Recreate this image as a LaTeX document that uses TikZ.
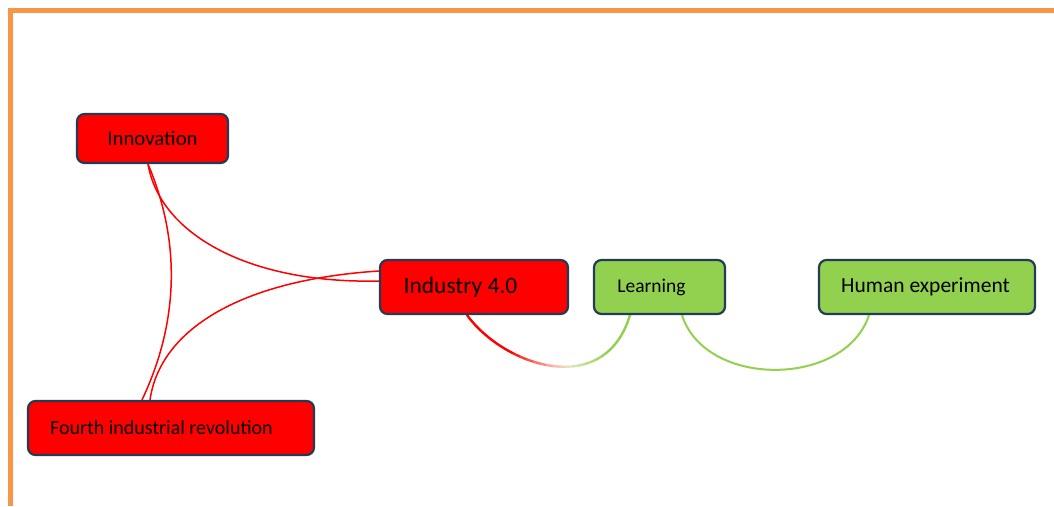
\documentclass[tikz,border=0pt]{standalone}
\usepackage{fontspec}
\setmainfont{Carlito}
\usetikzlibrary{backgrounds}
\definecolor{frameorange}{HTML}{F79646}
\definecolor{boxborder}{HTML}{243B55}
\definecolor{boxred}{HTML}{FF0000}
\definecolor{boxgreen}{HTML}{92D050}
\tikzset{
  box/.style={draw=boxborder, line width=2.2pt, rounded corners=7.5pt, inner sep=0pt, text=black},
  redbox/.style={box, fill=boxred},
  greenbox/.style={box, fill=boxgreen},
  redlink/.style={draw=boxred, line width=1.5pt},
  greenlink/.style={draw=boxgreen, line width=2pt},
}
\begin{document}
\begin{tikzpicture}[x=1pt,y=-1pt]
\useasboundingbox (0,0) rectangle (1054,506);
% frame
\draw[frameorange, line width=4.5pt] (10.5,506) -- (10.5,10.5) -- (1054,10.5);
% nodes
\node[redbox, minimum width=151pt, minimum height=49pt, font=\fontsize{20.8}{24}\selectfont] (inn) at (152.5,138.5) {Innovation};
\node[redbox, minimum width=188pt, minimum height=54pt, font=\fontsize{23.5}{28}\selectfont] (ind) at (474,287) {Industry 4.0\kern27pt};
\node[greenbox, minimum width=131pt, minimum height=54pt, font=\fontsize{19.5}{23}\selectfont] (lea) at (659.5,287) {Learning\kern16pt};
\node[greenbox, minimum width=216pt, minimum height=54pt, font=\fontsize{21.5}{25}\selectfont] (hum) at (927,287) {Human experiment\kern3pt};
\node[redbox, minimum width=286pt, minimum height=54pt, font=\fontsize{20}{24}\selectfont] (fou) at (171,428) {Fourth industrial revolution\kern19pt};
\begin{scope}[on background layer]
% red links
\draw[redlink] ([xshift=-4.5pt]inn.south) .. controls +(12pt,-70pt) and +(-130pt,-3pt) .. ([yshift=6pt]ind.west);
\draw[redlink] ([xshift=-4.5pt]inn.south) .. controls +(32pt,-75pt) and +(38pt,80pt) .. ([xshift=-29pt]fou.north);
\draw[redlink] ([xshift=-21pt]fou.north) .. controls +(10pt,70pt) and +(-139pt,-9pt) .. ([yshift=16pt]ind.west);
% green link
\draw[greenlink] ([xshift=22.5pt]lea.south) .. controls +(23pt,-73pt) and +(-24pt,-73pt) .. ([xshift=-58pt]hum.south);
% gradient link
\foreach \i in {0,...,30}{
  \pgfmathsetmacro{\t}{\i/30}
  \path ([xshift=-7pt]ind.south) .. controls +(38pt,-52pt) and +(-25pt,-84pt) .. ([xshift=-29.5pt]lea.south) coordinate[pos=\t] (g\i);
}
\foreach \i in {1,...,30}{
  \pgfmathtruncatemacro{\j}{\i-1}
  \pgfmathsetmacro{\t}{(\i-0.5)/30}
  \pgfmathsetmacro{\wr}{max(0,min(1,(0.58-\t)/0.3))}
  \pgfmathsetmacro{\wg}{max(0,min(1,(\t-0.5)/0.3))}
  \pgfmathsetmacro{\ww}{1-\wr-\wg}
  \pgfmathsetmacro{\cr}{\wr+0.573*\wg+\ww}
  \pgfmathsetmacro{\cg}{0.816*\wg+0.95*\ww}
  \pgfmathsetmacro{\cb}{0.314*\wg+0.9*\ww}
  \definecolor{segc}{rgb}{\cr,\cg,\cb}
  \draw[line width=2.4pt, line cap=round, segc] (g\j) -- (g\i);
}
\end{scope}
\end{tikzpicture}
\end{document}
